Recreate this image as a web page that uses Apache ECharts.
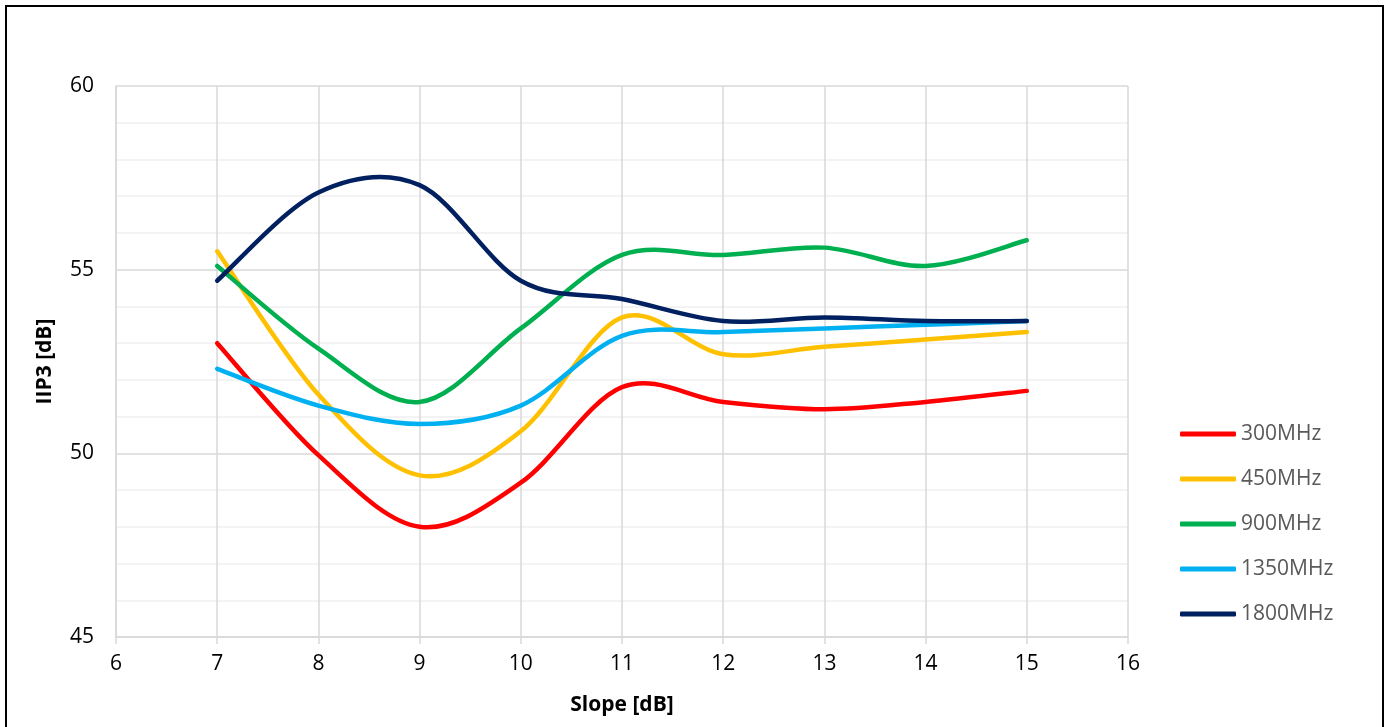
<!DOCTYPE html>
<html>
<head>
<meta charset="utf-8">
<script src="https://cdn.jsdelivr.net/npm/echarts@6/dist/echarts.min.js"></script>
<style>
html,body{margin:0;padding:0;background:#fff;}
#frame{position:absolute;left:5px;top:5px;width:1379px;height:740px;border:2px solid #000;box-sizing:border-box;}
#chart{position:absolute;left:0;top:0;width:1388px;height:727px;}
</style>
</head>
<body>
<div id="frame"></div>
<div id="chart"></div>
<script>
const slopes = [7, 8, 9, 10, 11, 12, 13, 14, 15];
const seriesNames = ['300MHz', '450MHz', '900MHz', '1350MHz', '1800MHz'];
const v300 = [53.0, 49.95, 48.0, 49.2, 51.8, 51.4, 51.2, 51.4, 51.7];
const v450 = [55.5, 51.6, 49.4, 50.6, 53.7, 52.7, 52.9, 53.1, 53.3];
const v900 = [55.1, 52.85, 51.4, 53.4, 55.4, 55.4, 55.6, 55.1, 55.8];
const v1350 = [52.3, 51.3, 50.8, 51.3, 53.2, 53.3, 53.4, 53.5, 53.6];
const v1800 = [54.7, 57.1, 57.3, 54.7, 54.2, 53.6, 53.7, 53.6, 53.6];
const colors = ['#FF0000', '#FFC000', '#00B050', '#00B0F0', '#002060'];
const allValues = [v300, v450, v900, v1350, v1800];

const chart = echarts.init(document.getElementById('chart'));
const font = '"Open Sans", "Liberation Sans", sans-serif';

// Excel-like smoothed line: cubic Bezier (Catmull-Rom style) through points mapped by the axes
function makeRender(values, color) {
  return function (params, api) {
    if (params.dataIndex !== 0) return null;
    const pts = slopes.map((x, j) => api.coord([x, values[j]]));
    const n = pts.length;
    const t = 1 / 6;
    const parts = ['M' + pts[0][0] + ' ' + pts[0][1]];
    for (let i = 0; i < n - 1; i++) {
      const p0 = pts[Math.max(i - 1, 0)], p1 = pts[i], p2 = pts[i + 1], p3 = pts[Math.min(i + 2, n - 1)];
      const c1 = [p1[0] + (p2[0] - p0[0]) * t, p1[1] + (p2[1] - p0[1]) * t];
      const c2 = [p2[0] - (p3[0] - p1[0]) * t, p2[1] - (p3[1] - p1[1]) * t];
      parts.push('C' + c1[0] + ' ' + c1[1] + ' ' + c2[0] + ' ' + c2[1] + ' ' + p2[0] + ' ' + p2[1]);
    }
    return {
      type: 'path',
      shape: { pathData: parts.join(' ') },
      style: { fill: null, stroke: color, lineWidth: 4.5, lineCap: 'round', lineJoin: 'round' }
    };
  };
}

chart.setOption({
  animation: false,
  color: colors,
  grid: { left: 116, right: 260, top: 86, bottom: 90 },
  legend: {
    orient: 'vertical',
    left: 1175,
    top: 418,
    itemWidth: 56,
    itemHeight: 5,
    itemGap: 23,
    icon: 'roundRect',
    textStyle: { color: '#595959', fontSize: 21, lineHeight: 22, fontFamily: font },
    data: seriesNames
  },
  xAxis: {
    type: 'value', min: 6, max: 16, interval: 1,
    name: 'Slope [dB]', nameLocation: 'middle', nameGap: 58,
    nameTextStyle: { fontSize: 21, fontWeight: 'bold', color: '#000', fontFamily: font },
    axisLine: { show: true, lineStyle: { color: '#d9d9d9', width: 1.5 } },
    axisTick: { show: true, length: 7, lineStyle: { color: '#d9d9d9', width: 1.5 } },
    axisLabel: { fontSize: 21, color: '#000', fontFamily: font, margin: 17 },
    splitLine: { show: true, lineStyle: { color: '#d9d9d9', width: 1.5 } }
  },
  yAxis: {
    type: 'value', min: 45, max: 60, interval: 5,
    name: 'IIP3 [dB]', nameLocation: 'middle', nameGap: 60,
    nameTextStyle: { fontSize: 21, fontWeight: 'bold', color: '#000', fontFamily: font },
    axisLine: { show: true, lineStyle: { color: '#d9d9d9', width: 1.5 } },
    axisTick: { show: false },
    axisLabel: { fontSize: 21, color: '#000', fontFamily: font, margin: 22 },
    splitLine: { show: true, lineStyle: { color: '#d9d9d9', width: 1.5 } },
    minorTick: { show: false, splitNumber: 5 },
    minorSplitLine: { show: true, lineStyle: { color: '#f0f0f0', width: 1.5 } }
  },
  series: seriesNames.map((n, i) => ({
    name: n,
    type: 'custom',
    coordinateSystem: 'cartesian2d',
    itemStyle: { color: colors[i] },
    renderItem: makeRender(allValues[i], colors[i]),
    encode: { x: 0, y: 1 },
    data: slopes.map((x, j) => [x, allValues[i][j]])
  }))
});
</script>
</body>
</html>
